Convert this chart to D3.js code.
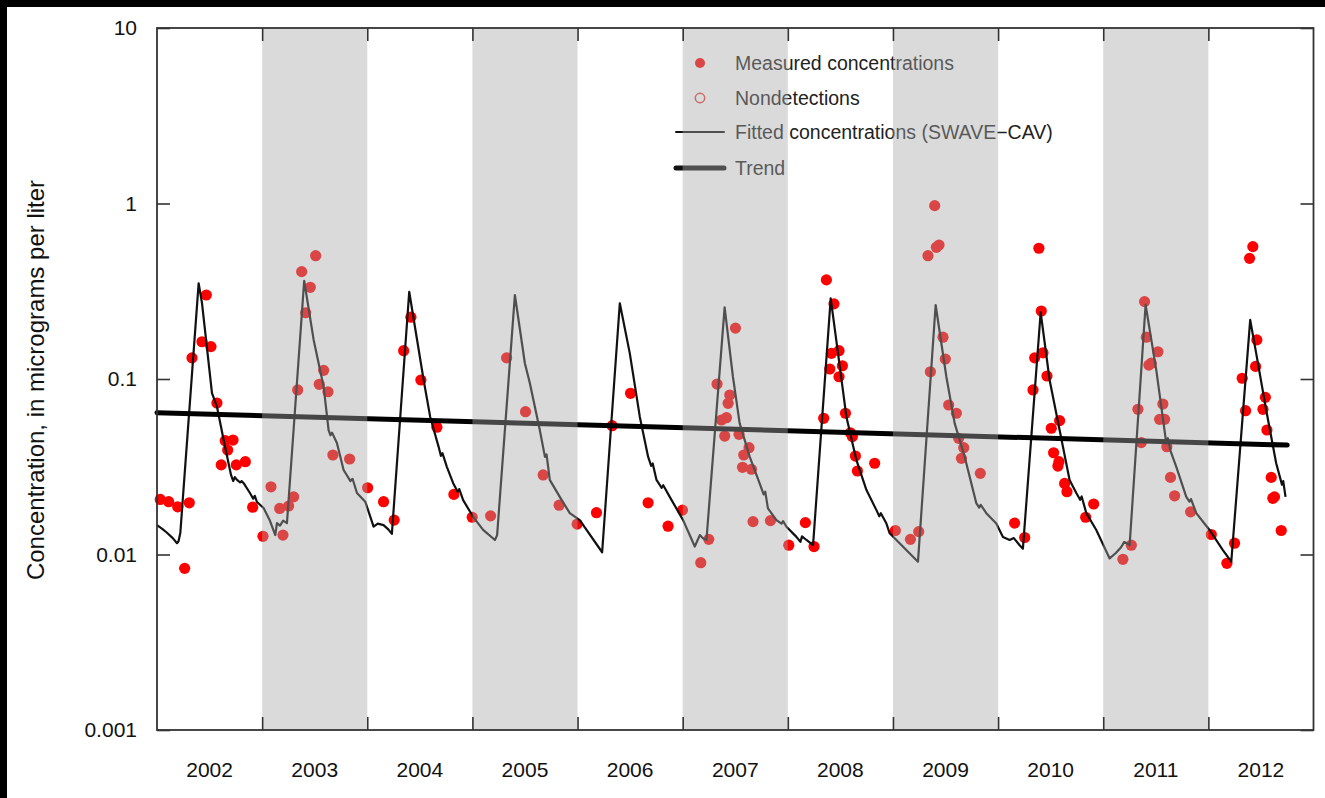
<!DOCTYPE html>
<html>
<head>
<meta charset="utf-8">
<script src="https://cdn.jsdelivr.net/npm/d3@7"></script>
<style>
  body { margin: 0; background: #fff; }
  svg { display: block; }
  text { font-family: "Liberation Sans", Arial, sans-serif; }
</style>
</head>
<body>
<svg id="chart" width="1325" height="798"></svg>
<script>
const years = [2002, 2003, 2004, 2005, 2006, 2007, 2008, 2009, 2010, 2011, 2012];
const shadedYears = [2003, 2005, 2007, 2009, 2011];
const yTicks = [0.001, 0.01, 0.1, 1, 10];
const yTickLabels = ["0.001", "0.01", "0.1", "1", "10"];

// measured concentrations: decimal year, micrograms per liter
const sampleTimes = [
  2002.031, 2002.111, 2002.197, 2002.307, 2002.263, 2002.333, 2002.428, 2002.469, 2002.513, 2002.570,
  2002.649, 2002.723, 2002.672, 2002.611, 2002.754, 2002.840, 2002.910,
  2003.008, 2003.084, 2003.167, 2003.198, 2003.252, 2003.300, 2003.338, 2003.376, 2003.414, 2003.458,
  2003.509, 2003.543, 2003.585, 2003.626, 2003.673, 2003.832, 2004.003,
  2004.155, 2004.256, 2004.346, 2004.415, 2004.510, 2004.662, 2004.824, 2004.998,
  2005.173, 2005.325, 2005.505, 2005.673, 2005.825, 2005.996,
  2006.180, 2006.329, 2006.504, 2006.671, 2006.861, 2006.998,
  2007.172, 2007.248, 2007.327, 2007.369, 2007.400, 2007.416, 2007.432, 2007.448, 2007.502, 2007.536,
  2007.581, 2007.631, 2007.569, 2007.654, 2007.669, 2007.835, 2008.009,
  2008.167, 2008.249, 2008.341, 2008.367, 2008.439, 2008.399, 2008.415, 2008.487, 2008.519, 2008.487,
  2008.548, 2008.595, 2008.614, 2008.643, 2008.662, 2008.826, 2009.023,
  2009.166, 2009.245, 2009.333, 2009.397, 2009.413, 2009.438, 2009.356, 2009.476, 2009.498, 2009.530,
  2009.603, 2009.625, 2009.673, 2009.651, 2009.831, 2010.157,
  2010.253, 2010.332, 2010.348, 2010.388, 2010.411, 2010.427, 2010.465, 2010.506, 2010.585, 2010.528,
  2010.579, 2010.569, 2010.633, 2010.655, 2010.833, 2010.909,
  2011.187, 2011.267, 2011.330, 2011.362, 2011.393, 2011.410, 2011.434, 2011.457, 2011.520, 2011.567,
  2011.536, 2011.584, 2011.605, 2011.640, 2011.679, 2011.831, 2012.028,
  2012.176, 2012.249, 2012.322, 2012.354, 2012.392, 2012.423, 2012.449, 2012.461, 2012.519, 2012.542,
  2012.557, 2012.598, 2012.613, 2012.629, 2012.693
];
const sampleConc = [
  0.0206, 0.0200, 0.0187, 0.0197, 0.00834, 0.132, 0.163, 0.301, 0.153, 0.0730,
  0.0445, 0.0449, 0.0394, 0.0324, 0.0324, 0.0338, 0.0186,
  0.0127, 0.0243, 0.0183, 0.0129, 0.0189, 0.0213, 0.0866, 0.409, 0.2385, 0.333,
  0.504, 0.0933, 0.112, 0.0846, 0.0369, 0.0350, 0.0240,
  0.0200, 0.0157, 0.145, 0.225, 0.0987, 0.0531, 0.0220, 0.0163,
  0.0166, 0.132, 0.0651, 0.0284, 0.0191, 0.0149,
  0.0173, 0.0542, 0.0829, 0.0197, 0.0145, 0.0179,
  0.00898, 0.0122, 0.0936, 0.0584, 0.0473, 0.0602, 0.0727, 0.0810, 0.195, 0.0484,
  0.0369, 0.0406, 0.0314, 0.0306, 0.0154, 0.0156, 0.0113,
  0.0152, 0.0111, 0.0597, 0.367, 0.268, 0.114, 0.140, 0.145, 0.119, 0.103,
  0.0638, 0.0494, 0.0470, 0.0364, 0.0299, 0.0331, 0.0137,
  0.0122, 0.0135, 0.504, 0.972, 0.563, 0.580, 0.110, 0.173, 0.130, 0.0711,
  0.0638, 0.0459, 0.0406, 0.0353, 0.0290, 0.0151,
  0.0125, 0.0866, 0.132, 0.556, 0.244, 0.141, 0.104, 0.0524, 0.0579, 0.0380,
  0.0338, 0.0319, 0.0254, 0.0228, 0.0163, 0.0194,
  0.00939, 0.0113, 0.0672, 0.0434, 0.276, 0.173, 0.120, 0.123, 0.143, 0.0720,
  0.0589, 0.0589, 0.0411, 0.0275, 0.0216, 0.0175, 0.0130,
  0.00891, 0.0116, 0.101, 0.0660, 0.487, 0.568, 0.118, 0.167, 0.0672, 0.0786,
  0.0512, 0.0275, 0.0209, 0.0213, 0.0137
];
const nondetectTimes = [];
const nondetectConc = [];

// fitted concentrations (SWAVE-CAV): [decimal year, concentration]
const fitted = [
  [2002.000, 0.0147], [2002.050, 0.0140], [2002.095, 0.0133], [2002.150, 0.0124], [2002.190, 0.0116],
  [2002.205, 0.0119], [2002.222, 0.0133], [2002.396, 0.351], [2002.428, 0.271], [2002.523, 0.0832],
  [2002.571, 0.0693], [2002.634, 0.0449], [2002.704, 0.0284], [2002.725, 0.0262], [2002.740, 0.0276],
  [2002.761, 0.0266], [2002.790, 0.0258], [2002.805, 0.0262], [2002.824, 0.0255], [2002.884, 0.0224],
  [2002.915, 0.0208], [2002.930, 0.0216], [2002.951, 0.0199], [2003.014, 0.0184], [2003.070, 0.0158],
  [2003.125, 0.0129], [2003.141, 0.0151], [2003.170, 0.0146], [2003.200, 0.0156], [2003.236, 0.0151],
  [2003.400, 0.363], [2003.490, 0.167], [2003.585, 0.0904], [2003.632, 0.0512], [2003.650, 0.0478],
  [2003.665, 0.0495], [2003.711, 0.0432], [2003.775, 0.0303], [2003.840, 0.0262], [2003.860, 0.0270],
  [2003.902, 0.0224], [2003.981, 0.0200], [2004.060, 0.0144], [2004.100, 0.0150], [2004.155, 0.0147],
  [2004.200, 0.0139], [2004.234, 0.0131], [2004.399, 0.314], [2004.536, 0.0987], [2004.598, 0.0610],
  [2004.678, 0.0412], [2004.700, 0.0365], [2004.715, 0.0378], [2004.757, 0.0316], [2004.817, 0.0255],
  [2004.860, 0.0228], [2004.875, 0.0236], [2004.912, 0.0204], [2005.007, 0.0164], [2005.102, 0.0138],
  [2005.214, 0.0121], [2005.235, 0.0129], [2005.404, 0.301], [2005.499, 0.123], [2005.546, 0.0949],
  [2005.641, 0.0512], [2005.690, 0.0360], [2005.705, 0.0372], [2005.736, 0.0266], [2005.831, 0.0213],
  [2005.926, 0.0172], [2006.021, 0.0157], [2006.234, 0.0103], [2006.402, 0.270], [2006.497, 0.140],
  [2006.592, 0.0610], [2006.671, 0.0361], [2006.700, 0.0320], [2006.715, 0.0330], [2006.751, 0.0266],
  [2006.800, 0.0240], [2006.815, 0.0248], [2006.877, 0.0213], [2007.004, 0.0157], [2007.115, 0.0111],
  [2007.163, 0.0129], [2007.190, 0.0124], [2007.226, 0.0121], [2007.399, 0.256], [2007.478, 0.103],
  [2007.542, 0.0559], [2007.637, 0.0361], [2007.732, 0.0254], [2007.770, 0.0220], [2007.785, 0.0228],
  [2007.811, 0.0183], [2007.892, 0.0157], [2007.940, 0.0150], [2007.955, 0.0155], [2007.987, 0.0144],
  [2008.082, 0.0126], [2008.120, 0.0118], [2008.135, 0.0127], [2008.177, 0.0121], [2008.240, 0.0113],
  [2008.408, 0.288], [2008.495, 0.117], [2008.557, 0.0610], [2008.652, 0.0346], [2008.748, 0.0233],
  [2008.843, 0.0179], [2008.870, 0.0165], [2008.885, 0.0172], [2008.938, 0.0150], [2008.969, 0.0132],
  [2009.238, 0.0091], [2009.406, 0.264], [2009.508, 0.103], [2009.587, 0.0559], [2009.682, 0.0361],
  [2009.793, 0.0196], [2009.820, 0.0185], [2009.835, 0.0192], [2009.888, 0.0172], [2009.983, 0.0150],
  [2010.046, 0.0126], [2010.110, 0.0121], [2010.150, 0.0124], [2010.205, 0.0113], [2010.236, 0.0108],
  [2010.405, 0.240], [2010.490, 0.0987], [2010.585, 0.0512], [2010.680, 0.0266], [2010.744, 0.0224],
  [2010.780, 0.0205], [2010.795, 0.0214], [2010.839, 0.0172], [2010.934, 0.0138], [2011.061, 0.0095],
  [2011.120, 0.0102], [2011.170, 0.0110], [2011.200, 0.0118], [2011.220, 0.0116], [2011.251, 0.0113],
  [2011.403, 0.265], [2011.505, 0.112], [2011.600, 0.0430], [2011.615, 0.0460], [2011.640, 0.0390],
  [2011.695, 0.0316], [2011.790, 0.0213], [2011.820, 0.0200], [2011.835, 0.0207], [2011.885, 0.0172],
  [2012.011, 0.0138], [2012.138, 0.0106], [2012.218, 0.0091], [2012.398, 0.217], [2012.455, 0.140],
  [2012.550, 0.0666], [2012.645, 0.0331], [2012.700, 0.0250], [2012.712, 0.0262], [2012.734, 0.0213]
];

const trend = [[2002.0, 0.0643], [2012.75, 0.0420]];

const svg = d3.select("#chart");
const plotLeft = 157, plotRight = 1313.5, plotTop = 28, plotBottom = 730;

const x = d3.scaleLinear().domain([2002, 2013]).range([plotLeft, plotRight]);
const y = d3.scaleLog().domain([0.001, 10]).range([plotBottom, plotTop]);

svg.append("rect").attr("width", 1325).attr("height", 798).attr("fill", "#fff");

// measured points
svg.append("g").selectAll("circle")
  .data(sampleTimes)
  .join("circle")
  .attr("cx", (d) => x(d))
  .attr("cy", (d, i) => y(sampleConc[i]))
  .attr("r", 5.6)
  .attr("fill", "#ff0000");

svg.append("g").selectAll("circle")
  .data(nondetectTimes)
  .join("circle")
  .attr("cx", (d) => x(d))
  .attr("cy", (d, i) => y(nondetectConc[i]))
  .attr("r", 4.7)
  .attr("fill", "none")
  .attr("stroke", "#e03c3c")
  .attr("stroke-width", 1.5);

const line = d3.line()
  .x((d) => x(d[0]))
  .y((d) => y(d[1]));

svg.append("path")
  .datum(fitted)
  .attr("d", line)
  .attr("fill", "none")
  .attr("stroke", "#111")
  .attr("stroke-width", 2.2)
  .attr("stroke-linejoin", "round");

svg.append("path")
  .datum(trend)
  .attr("d", line)
  .attr("fill", "none")
  .attr("stroke", "#000")
  .attr("stroke-width", 5)
  .attr("stroke-linecap", "round");

// legend
const legend = svg.append("g").attr("font-size", 19.5).attr("fill", "#222");
const legendRows = [
  { label: "Measured concentrations", y: 63, kind: "dot" },
  { label: "Nondetections", y: 98, kind: "open" },
  { label: "Fitted concentrations (SWAVE\u2212CAV)", y: 132, kind: "thin" },
  { label: "Trend", y: 168, kind: "thick" }
];
legendRows.forEach((row) => {
  if (row.kind === "dot") {
    legend.append("circle").attr("cx", 700).attr("cy", row.y).attr("r", 5).attr("fill", "#ff0000");
  } else if (row.kind === "open") {
    legend.append("circle").attr("cx", 700).attr("cy", row.y).attr("r", 4.7)
      .attr("fill", "none").attr("stroke", "#e03c3c").attr("stroke-width", 1.5);
  } else {
    legend.append("line")
      .attr("x1", 676).attr("x2", 724)
      .attr("y1", row.y).attr("y2", row.y)
      .attr("stroke", "#111")
      .attr("stroke-width", row.kind === "thick" ? 5 : 2)
      .attr("stroke-linecap", "round");
  }
  legend.append("text")
    .attr("x", 735)
    .attr("y", row.y)
    .attr("dy", "0.35em")
    .text(row.label);
});

// grey year bands, laid over the marks as in the original
svg.append("g").selectAll("rect")
  .data(shadedYears)
  .join("rect")
  .attr("x", (d) => x(d))
  .attr("y", plotTop)
  .attr("width", (d) => x(d + 1) - x(d))
  .attr("height", plotBottom - plotTop)
  .attr("fill", "rgb(167,167,167)")
  .attr("fill-opacity", 0.42);

// frame and ticks
const boundaries = years.slice(1);
const axisStyle = (g) => {
  g.select(".domain").remove();
  g.selectAll(".tick line").attr("stroke", "#333").attr("stroke-width", 1.6);
  g.selectAll(".tick text").attr("fill", "#111").attr("font-size", 21)
    .attr("font-family", "'Liberation Sans', Arial, sans-serif");
};

svg.append("g")
  .attr("transform", `translate(${plotLeft},0)`)
  .call(d3.axisLeft(y).tickValues(yTicks).tickSize(-13).tickPadding(20)
    .tickFormat((d, i) => yTickLabels[i]))
  .call(axisStyle);

svg.append("g")
  .attr("transform", `translate(${plotRight},0)`)
  .call(d3.axisRight(y).tickValues(yTicks).tickSize(-13).tickFormat(""))
  .call(axisStyle);

svg.append("g")
  .attr("transform", `translate(0,${plotBottom})`)
  .call(d3.axisBottom(x).tickValues(boundaries).tickSize(-13).tickFormat(""))
  .call(axisStyle);

svg.append("g")
  .attr("transform", `translate(0,${plotTop})`)
  .call(d3.axisTop(x).tickValues(boundaries).tickSize(-13).tickFormat(""))
  .call(axisStyle);

svg.append("rect")
  .attr("x", plotLeft).attr("y", plotTop)
  .attr("width", plotRight - plotLeft).attr("height", plotBottom - plotTop)
  .attr("fill", "none")
  .attr("stroke", "#333")
  .attr("stroke-width", 1.8);

svg.append("g").selectAll("text")
  .data(years)
  .join("text")
  .attr("x", (d) => x(d + 0.5))
  .attr("y", 777)
  .attr("text-anchor", "middle")
  .attr("font-size", 21)
  .attr("fill", "#111")
  .text((d) => d);

svg.append("text")
  .attr("transform", "translate(36,380) rotate(-90)")
  .attr("text-anchor", "middle")
  .attr("dy", "0.35em")
  .attr("font-size", 24)
  .attr("fill", "#111")
  .text("Concentration, in micrograms per liter");

// black edges of the cropped scan
svg.append("rect").attr("x", 0).attr("y", 0).attr("width", 1325).attr("height", 7).attr("fill", "#000");
svg.append("rect").attr("x", 0).attr("y", 0).attr("width", 7).attr("height", 798).attr("fill", "#000");
</script>
</body>
</html>
